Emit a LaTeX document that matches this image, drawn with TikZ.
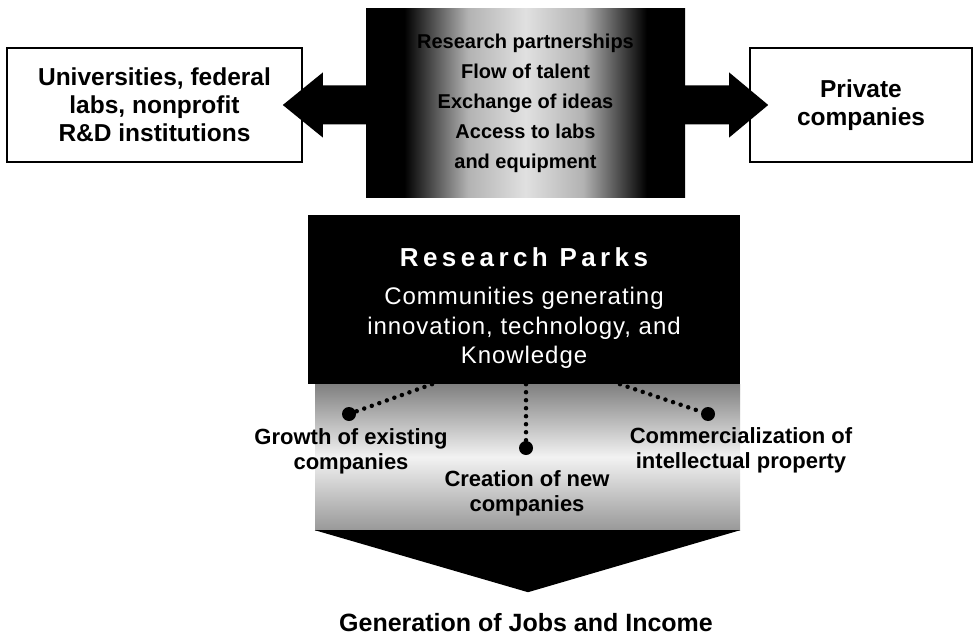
\documentclass[tikz,border=0pt]{standalone}
\usepackage{fontspec}
\setmainfont{Liberation Sans}
\newfontfamily\titlefont[LetterSpace=17]{Liberation Sans}
\newfontfamily\subfont[LetterSpace=4]{Liberation Sans}
\usetikzlibrary{calc}
\pgfdeclarehorizontalshading{edgedark}{100bp}{color(0bp)=(black); color(31bp)=(black); color(41bp)=(black!30); color(50bp)=(black!12); color(59bp)=(black!30); color(69bp)=(black); color(100bp)=(black)}
\pgfdeclareverticalshading{fieldshade}{100bp}{color(0bp)=(black!40); color(25bp)=(black!40); color(50bp)=(black!5); color(75bp)=(black!50); color(100bp)=(black!50)}
\begin{document}
\begin{tikzpicture}[x=1pt,y=-1pt,
  sidebox/.style={draw=black, line width=1.6pt, fill=white, align=center,
    font=\bfseries\fontsize{24.5}{28}\selectfont, inner sep=0pt},
  lbl/.style={align=center, font=\bfseries\fontsize{22}{25}\selectfont, inner sep=0pt},
  bigdot/.style={circle, fill=black, minimum size=14pt, inner sep=0pt},
  dotline/.style={line width=4.5pt, line cap=round, dash pattern=on 0pt off 8pt}
]
\useasboundingbox (0,0) rectangle (976,639);
\fill[white] (0,0) rectangle (976,639);

% top row
\node[sidebox, minimum width=295pt, minimum height=114pt] (uni) at (154.5,105)
  {Universities, federal\\labs, nonprofit\\R\&D institutions};
\node[sidebox, minimum width=222pt, minimum height=114pt] (priv) at (861,105)
  {Private\\companies};
\coordinate (tipL) at ([xshift=-20pt]uni.east);
\coordinate (tipR) at ([xshift=19pt]priv.west);
\fill (tipL) -- ++(40,-32.5) -- ++(0,13) -- ($(tipR)+(-39,-19.5)$) -- ++(0,-13)
  -- (tipR) -- ++(-39,32.5) -- ++(0,-13) -- ($(tipL)+(40,19.5)$) -- ++(0,13) -- cycle;
\node[shade, shading=edgedark, minimum width=319pt, minimum height=188pt, inner sep=0pt,
  align=center, font=\bfseries\fontsize{20}{30}\selectfont] (ctr) at (525.5,103)
  {Research partnerships\\Flow of talent\\Exchange of ideas\\Access to labs\\and equipment};

% research parks
\node[shade, shading=fieldshade, minimum width=425pt, minimum height=146pt, inner sep=0pt] (field) at (527.5,457) {};
\node[fill=black, minimum width=432pt, minimum height=169pt, inner sep=0pt] (rp) at (524,299.5) {};
\node[text=white, font=\titlefont\bfseries\fontsize{26}{30}\selectfont, inner sep=0pt] (rptitle) at (524,257) {Research Parks};
\node[text=white, align=center, font=\subfont\fontsize{24}{29.5}\selectfont, inner sep=0pt] (rpsub) at (524,328)
  {Communities generating\\innovation, technology, and\\Knowledge};

% outcomes
\node[bigdot] (dotL) at (349,414) {};
\node[bigdot] (dotM) at (526,448) {};
\node[bigdot] (dotR) at (708,414) {};
\draw[dotline] ([xshift=-92pt]rp.south) -- (dotL);
\draw[dotline] ([xshift=96pt]rp.south) -- (dotR);
\draw[dotline] (rp.south -| dotM) -- (dotM);
\node[lbl] (growth) at (351,451) {Growth of existing\\companies};
\node[lbl] (creation) at (527,493) {Creation of new\\companies};
\node[lbl] (commerc) at (741,450) {Commercialization of\\intellectual property};

% result arrow
\fill (field.south west) -- (field.south east) -- ($(field.south)+(0.5,62)$) -- cycle;
\node[font=\bfseries\fontsize{25}{30}\selectfont, anchor=base, inner sep=0pt] (jobs) at (526,631)
  {Generation of Jobs and Income};
\end{tikzpicture}
\end{document}
